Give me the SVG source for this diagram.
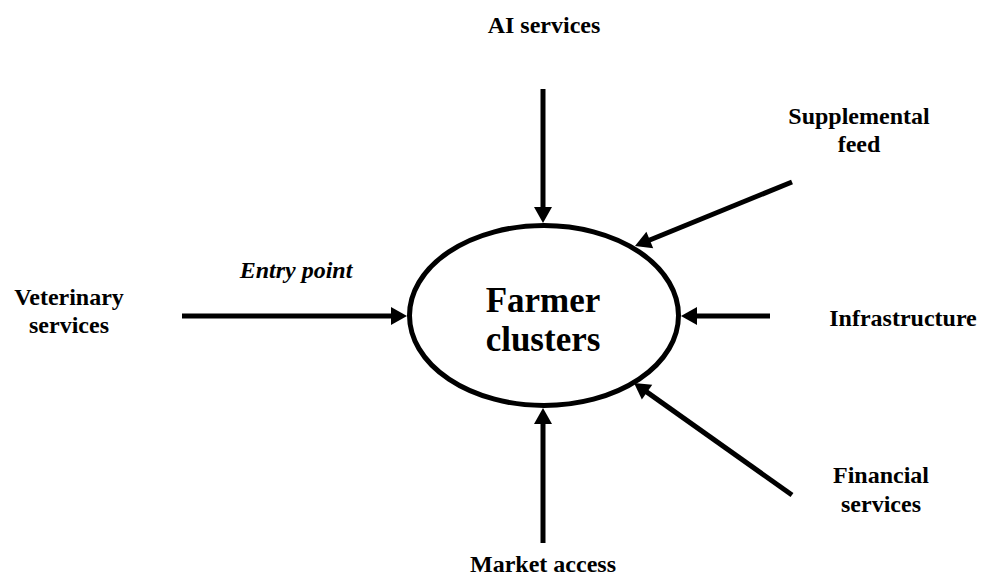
<svg xmlns="http://www.w3.org/2000/svg" width="984" height="578" viewBox="0 0 984 578">
  <style>
    .lbl { font-family: "Liberation Serif", "Times New Roman", serif; font-weight: bold; font-size: 24px; fill: #000; text-anchor: middle; }
    .big { font-size: 35px; }
    .it { font-style: italic; }
    .conn { stroke: #000; stroke-width: 5; fill: none; marker-end: url(#ah); }
  </style>
  <defs>
    <marker id="ah" markerUnits="userSpaceOnUse" markerWidth="16" markerHeight="18" refX="4" refY="9" orient="auto" overflow="visible">
      <path d="M0,0 L16,9 L0,18 z" fill="#000"/>
    </marker>
  </defs>
  <rect width="984" height="578" fill="#fff"/>
  <g id="connectors">
    <line class="conn" x1="543" y1="89" x2="543" y2="211"/>
    <line class="conn" x1="543" y1="543" x2="543" y2="420"/>
    <line class="conn" x1="182" y1="316" x2="395" y2="316"/>
    <line class="conn" x1="770" y1="316" x2="693" y2="316"/>
    <line class="conn" x1="792" y1="182" x2="646.1" y2="241.5"/>
    <line class="conn" x1="792" y1="495" x2="643.8" y2="389.9"/>
  </g>
  <g id="farmer-clusters">
    <ellipse cx="544" cy="315.5" rx="134.5" ry="90" fill="#fff" stroke="#000" stroke-width="5"/>
    <text class="lbl big" x="543" y="312">Farmer</text>
    <text class="lbl big" x="543" y="351">clusters</text>
  </g>
  <g id="ai-services">
    <text class="lbl" x="544" y="33">AI services</text>
  </g>
  <g id="supplemental-feed">
    <text class="lbl" x="859" y="124">Supplemental</text>
    <text class="lbl" x="859" y="152">feed</text>
  </g>
  <g id="infrastructure">
    <text class="lbl" x="903" y="326">Infrastructure</text>
  </g>
  <g id="financial-services">
    <text class="lbl" x="881" y="483">Financial</text>
    <text class="lbl" x="881" y="512">services</text>
  </g>
  <g id="market-access">
    <text class="lbl" x="543" y="572">Market access</text>
  </g>
  <g id="veterinary-services">
    <text class="lbl" x="69" y="305">Veterinary</text>
    <text class="lbl" x="69" y="333">services</text>
  </g>
  <g id="entry-point">
    <text class="lbl it" x="296" y="278">Entry point</text>
  </g>
</svg>
